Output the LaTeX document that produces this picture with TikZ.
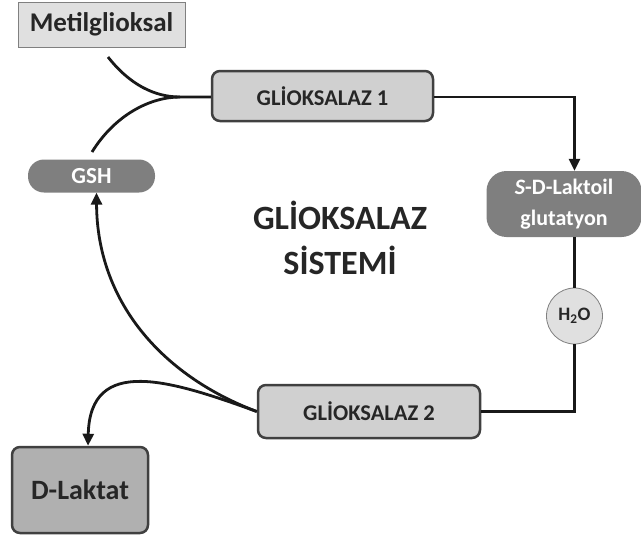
\documentclass[tikz,border=0pt]{standalone}
\usepackage{fontspec}
\setmainfont{Carlito}
\usetikzlibrary{arrows.meta}
\definecolor{boxlight}{HTML}{E0E0E0}
\definecolor{boxmid}{HTML}{D0D0D0}
\definecolor{boxdark}{HTML}{B0B0B0}
\definecolor{pillgray}{HTML}{7F7F7F}
\definecolor{edgedark}{HTML}{404040}
\definecolor{textdark}{HTML}{262626}
\tikzset{
  enzyme/.style={draw=edgedark, line width=2.5pt, fill=boxmid, rounded corners=8pt, inner sep=0pt, text=textdark, font=\bfseries\fontsize{22.5}{26}\selectfont},
  pill/.style={fill=pillgray, text=white, inner sep=0pt, font=\bfseries\fontsize{23}{26}\selectfont},
  conn/.style={draw=black!90, line width=2.8pt},
  arr/.style={conn, -{Triangle[length=12pt,width=11pt]}},
}
\begin{document}
\begin{tikzpicture}[x=1pt,y=-1pt]
\useasboundingbox (0,0) rectangle (641,541);
% nodes
\node[draw=black!50, line width=0.8pt, fill=boxlight, minimum width=167pt, minimum height=45pt, inner sep=0pt, text=textdark, font=\bfseries\fontsize{27}{30}\selectfont] (mg) at (101.5,24.5) {Metilglioksal};
\node[enzyme, minimum width=221pt, minimum height=50pt] (gk1) at (322.5,96) {GL\.IOKSALAZ 1};
\node[pill, rounded corners=16pt, minimum width=127pt, minimum height=33pt] (gsh) at (91.5,176) {GSH};
\node[pill, rounded corners=20pt, minimum width=155pt, minimum height=66pt, align=center, font=\bfseries\fontsize{22}{31}\selectfont] (sdl) at (564,204) {\textit{S}-D-Laktoil\\glutatyon};
\node[circle, draw=black!50, line width=0.8pt, fill=boxlight, minimum size=56pt, inner sep=0pt, text=textdark, font=\bfseries\fontsize{19}{22}\selectfont] (h2o) at (574.5,316) {H\textsubscript{2}O};
\node[enzyme, minimum width=222pt, minimum height=53pt] (gk2) at (369,411.5) {GL\.IOKSALAZ 2};
\node[draw=edgedark, line width=2.5pt, fill=boxdark, rounded corners=8pt, minimum width=136pt, minimum height=86pt, inner sep=0pt, text=textdark, font=\bfseries\fontsize{28}{32}\selectfont] (dl) at (80,490) {D-Laktat};
\node[align=center, text=textdark, font=\bfseries\fontsize{34}{45}\selectfont] (title) at (340,238) {GL\.IOKSALAZ\\S\.ISTEM\.I};
% connectors
\coordinate (mgend) at (108,57);
\coordinate (join) at (180,97);
\coordinate (gshtop) at (92,152);
\draw[conn] (mgend) .. controls (130,85) and (155,97) .. (join) -- (gk1.west |- join);
\draw[conn] (gshtop) .. controls (115,115) and (150,97) .. (join);
\draw[arr] (gk1.east |- join) -| (sdl.north -| h2o.north);
\draw[conn] (sdl.south -| h2o.north) -- (h2o.north);
\draw[conn] (h2o.south) |- (gk2.east);
\draw[arr] (gk2.west) .. controls (160,375) and (97,300) .. ([xshift=5pt]gsh.south);
\draw[arr] (gk2.west) .. controls (170,380) and (90,355) .. ([xshift=8pt]dl.north);
\end{tikzpicture}
\end{document}
